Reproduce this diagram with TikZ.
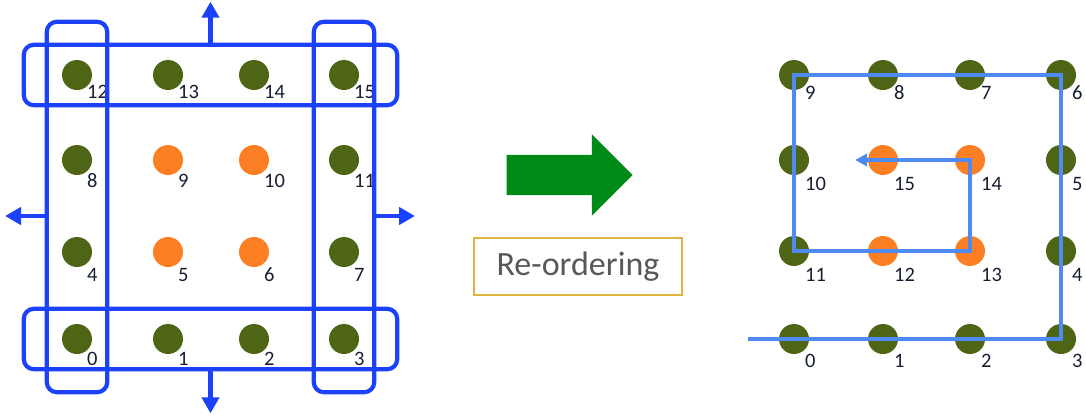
\documentclass[tikz,border=0pt]{standalone}
\usepackage{fontspec}
\setmainfont{Carlito}
\usetikzlibrary{arrows.meta,fit,shapes.arrows}

\definecolor{dotgreen}{RGB}{79,101,22}
\definecolor{dotorange}{RGB}{253,127,35}
\definecolor{frameblue}{RGB}{27,66,250}
\definecolor{walkblue}{RGB}{78,138,242}
\definecolor{numink}{RGB}{22,30,48}
\definecolor{goldline}{RGB}{224,180,64}
\definecolor{gogreen}{RGB}{0,138,24}
\definecolor{greytext}{RGB}{88,88,88}

\tikzset{
    ball/.style = {circle, fill = #1, minimum size = 30pt, inner sep = 0pt},
    num/.style = {anchor = base west, inner sep = 0pt, text = numink,
        font = \fontsize{20.5}{22}\selectfont},
    frame/.style = {draw = frameblue, line width = 4.2pt, rounded corners = 10pt},
    rowframe/.style = {frame, inner xsep = 38pt, inner ysep = 15pt},
    colframe/.style = {frame, inner xsep = 15pt, inner ysep = 38pt},
    push/.style = {draw = frameblue, line width = 4.5pt,
        -{Triangle[width = 17pt, length = 16pt]}},
    walk/.style = {draw = walkblue, line width = 3.4pt,
        -{Triangle[width = 12pt, length = 12pt]}}
}

\begin{document}
\begin{tikzpicture}[x = 1pt, y = -1pt]
    \useasboundingbox (0, 0) rectangle (1086, 416);

    % row-major grid, number/x/y/colour/label drop
    \foreach \n/\x/\y/\c/\d in {
            12/77/75/dotgreen/23, 13/168/75/dotgreen/23, 14/254/75/dotgreen/23, 15/344/75/dotgreen/23,
            8/77/160/dotgreen/27, 9/168/160/dotorange/27, 10/254/160/dotorange/27, 11/344/160/dotgreen/27,
            4/77/252/dotgreen/29, 5/168/252/dotorange/29, 6/254/252/dotorange/29, 7/344/252/dotgreen/29,
            0/77/339/dotgreen/26, 1/168/339/dotgreen/26, 2/254/339/dotgreen/26, 3/344/339/dotgreen/26} {
        \node[ball = \c] (a\n) at (\x, \y) {};
        \node[num] (a\n-n) at ([shift = {(10, \d)}] a\n.center) {\n};
    }

    % boundary rows and columns
    \node[rowframe, fit = (a12) (a15)] (toprow) {};
    \node[rowframe, fit = (a0) (a3)] (botrow) {};
    \node[colframe, fit = (a12) (a0)] (leftcol) {};
    \node[colframe, fit = (a15) (a3)] (rightcol) {};

    \coordinate (uptip) at ([yshift = 41pt] toprow.north);
    \coordinate (downtip) at ([yshift = -42pt] botrow.south);
    \coordinate (lefttip) at (5, 216);
    \coordinate (righttip) at (415, 216);
    \draw[push] (toprow.north) -- (uptip);
    \draw[push] (botrow.south) -- (downtip);
    \draw[push] (lefttip -| leftcol.west) -- (lefttip);
    \draw[push] (righttip -| rightcol.east) -- (righttip);

    % middle
    \node[single arrow, fill = gogreen, minimum height = 126pt,
        single arrow head extend = 20.5pt, inner xsep = 0pt, inner ysep = 20pt]
        (go) at (559.5, 175) {};
    \node[draw = goldline, line width = 2.8pt, minimum width = 208pt, minimum height = 57pt,
        text = greytext, font = \fontsize{34}{36}\selectfont]
        (reorder) at (578, 266.5) {Re-ordering};

    % spiral order
    \foreach \n/\x/\y/\c/\d in {
            9/794/75/dotgreen/24, 8/883/75/dotgreen/24, 7/970/75/dotgreen/24, 6/1061/75/dotgreen/24,
            10/794/160/dotgreen/30, 15/883/160/dotorange/30, 14/970/160/dotorange/30, 5/1061/160/dotgreen/30,
            11/794/251/dotgreen/30, 12/883/251/dotorange/30, 13/970/251/dotorange/30, 4/1061/251/dotgreen/30,
            0/794/339/dotgreen/28, 1/883/339/dotgreen/28, 2/970/339/dotgreen/28, 3/1061/339/dotgreen/28} {
        \node[ball = \c] (b\n) at (\x, \y) {};
        \node[num] (b\n-n) at ([shift = {(11, \d)}] b\n.center) {\n};
    }

    \coordinate (walkstart) at (748, 339);
    \coordinate (walkend) at (855, 160);
    \draw[walk] (walkstart) -- (b3.center) -- (b6.center) -- (b9.center) -- (b11.center)
        -- (b13.center) -- (b14.center) -- (walkend);
\end{tikzpicture}
\end{document}
